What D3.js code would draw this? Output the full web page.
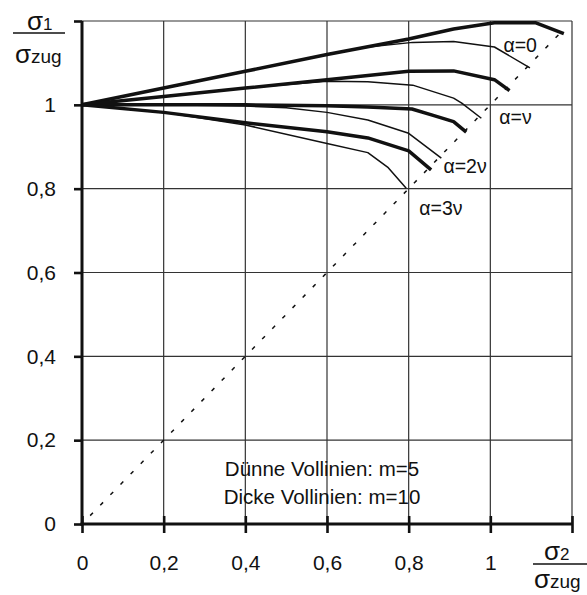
<!DOCTYPE html>
<html>
<head>
<meta charset="utf-8">
<script src="https://cdn.jsdelivr.net/npm/d3@7"></script>
<style>
  html, body { margin: 0; padding: 0; background: #fff; }
  svg { display: block; font-family: "Liberation Sans", Arial, Helvetica, sans-serif; }
</style>
</head>
<body>
<svg id="chart" width="587" height="595"></svg>
<script>
// ---------- DATA ----------
const tickValues = [0, 0.2, 0.4, 0.6, 0.8, 1, 1.2];
const labelledTicks = [0, 0.2, 0.4, 0.6, 0.8, 1];
const alphaLabels = ['α=0', 'α=ν', 'α=2ν', 'α=3ν'];
const legendLines = ['Dünne Vollinien: m=5', 'Dicke Vollinien: m=10'];

// thick lines: m=10
const thickA0 = [[0, 1], [0.2, 1.04], [0.4, 1.08], [0.6, 1.12], [0.8, 1.157], [0.91, 1.181], [1.01, 1.196], [1.11, 1.196], [1.18, 1.17]];
const thickA1 = [[0, 1], [0.2, 1.02], [0.4, 1.04], [0.6, 1.06], [0.8, 1.08], [0.91, 1.081], [1.01, 1.06], [1.047, 1.034]];
const thickA2 = [[0, 1], [0.2, 1.0], [0.4, 1.0], [0.6, 0.998], [0.7, 0.995], [0.808, 0.99], [0.86, 0.975], [0.91, 0.96], [0.941, 0.935]];
const thickA3 = [[0, 1], [0.2, 0.982], [0.4, 0.957], [0.6, 0.936], [0.7, 0.921], [0.8, 0.89], [0.855, 0.845]];

// thin lines: m=5
const thinA0 = [[0, 1], [0.2, 1.04], [0.4, 1.08], [0.6, 1.12], [0.7, 1.138], [0.81, 1.149], [0.91, 1.151], [1.01, 1.138], [1.097, 1.088]];
const thinA1 = [[0, 1], [0.2, 1.02], [0.4, 1.04], [0.6, 1.056], [0.7, 1.055], [0.81, 1.047], [0.91, 1.016], [0.93, 1.004], [0.978, 0.968]];
const thinA2 = [[0, 1], [0.2, 1.0], [0.4, 0.997], [0.5, 0.993], [0.6, 0.982], [0.7, 0.964], [0.8, 0.932], [0.88, 0.873]];
const thinA3 = [[0, 1], [0.2, 0.982], [0.4, 0.952], [0.6, 0.908], [0.7, 0.886], [0.75, 0.85], [0.794, 0.801]];

const diagonal = [[0.02, 0.02], [1.18, 1.18]];

// ---------- CHART ----------
const svg = d3.select('#chart');
const ink = '#111';

const x = d3.scaleLinear().domain([0, 1.2]).range([82, 572]);
const y = d3.scaleLinear().domain([0, 1.2]).range([524, 21]);

const fmt = (d) => (d === 0 || d === 1 ? String(d) : d3.format('.1f')(d).replace('.', ','));

// grid
const grid = svg.append('g').attr('stroke', '#333').attr('stroke-width', 1.2);
grid.selectAll('line.v')
  .data(tickValues.slice(1))
  .join('line')
  .attr('x1', (d) => x(d)).attr('x2', (d) => x(d))
  .attr('y1', y(0)).attr('y2', y(1.2));
grid.selectAll('line.h')
  .data(tickValues.slice(1))
  .join('line')
  .attr('x1', x(0)).attr('x2', x(1.2))
  .attr('y1', (d) => y(d)).attr('y2', (d) => y(d));

// axes
const yAxis = svg.append('g')
  .attr('transform', `translate(${x(0)},0)`)
  .call(d3.axisLeft(y).tickValues(tickValues).tickSize(8).tickPadding(18)
    .tickFormat((d) => (labelledTicks.includes(d) ? fmt(d) : '')));

const xAxis = svg.append('g')
  .attr('transform', `translate(0,${y(0)})`)
  .call(d3.axisBottom(x).tickValues(tickValues).tickSize(9).tickPadding(22)
    .tickFormat((d) => (labelledTicks.includes(d) ? fmt(d) : '')));

[yAxis, xAxis].forEach((ax) => {
  ax.select('.domain').remove();
  ax.selectAll('text').attr('fill', ink).style('font-size', '21px');
  ax.selectAll('.tick line').attr('stroke', ink).attr('stroke-width', 2.6);
});
xAxis.selectAll('.tick line').attr('y1', -8);

// main axis lines
svg.append('line')
  .attr('x1', x(0)).attr('x2', x(0)).attr('y1', y(1.2)).attr('y2', y(0) + 1.5)
  .attr('stroke', ink).attr('stroke-width', 3);
svg.append('line')
  .attr('x1', x(0) - 1.5).attr('x2', x(1.2)).attr('y1', y(0)).attr('y2', y(0))
  .attr('stroke', ink).attr('stroke-width', 3);

// dotted diagonal
const line = d3.line().x((d) => x(d[0])).y((d) => y(d[1]));
svg.append('path')
  .datum(diagonal)
  .attr('d', line)
  .attr('fill', 'none')
  .attr('stroke', ink)
  .attr('stroke-width', 1.5)
  .attr('stroke-dasharray', '4,10.5');

// curves
const thin = [thinA0, thinA1, thinA2, thinA3];
const thick = [thickA0, thickA1, thickA2, thickA3];

svg.append('g').selectAll('path')
  .data(thin)
  .join('path')
  .attr('d', line)
  .attr('fill', 'none')
  .attr('stroke', ink)
  .attr('stroke-width', 1.5)
  .attr('stroke-linejoin', 'round');

svg.append('g').selectAll('path')
  .data(thick)
  .join('path')
  .attr('d', line)
  .attr('fill', 'none')
  .attr('stroke', ink)
  .attr('stroke-width', 3.5)
  .attr('stroke-linejoin', 'round');

// alpha labels (placement in data units)
const labelAt = [[1.032, 1.126], [1.022, 0.955], [0.885, 0.838], [0.826, 0.737]];
svg.append('g').selectAll('text')
  .data(alphaLabels)
  .join('text')
  .attr('x', (d, i) => x(labelAt[i][0]))
  .attr('y', (d, i) => y(labelAt[i][1]))
  .attr('fill', ink)
  .style('font-size', '19.5px')
  .text((d) => d);

// legend text
svg.append('g').selectAll('text')
  .data(legendLines)
  .join('text')
  .attr('x', 322)
  .attr('y', (d, i) => 476 + i * 28)
  .attr('text-anchor', 'middle')
  .attr('fill', ink)
  .style('font-size', '20.5px')
  .text((d) => d);

// axis titles as fractions
function fraction(num, sub1, den, sub2, nx, ny, dx, dy, lx1, lx2, ly) {
  const t1 = svg.append('text').attr('x', nx).attr('y', ny).attr('fill', ink);
  t1.append('tspan').style('font-size', '26px').text(num);
  t1.append('tspan').style('font-size', '17px').text(sub1);
  svg.append('line')
    .attr('x1', lx1).attr('x2', lx2).attr('y1', ly).attr('y2', ly)
    .attr('stroke', ink).attr('stroke-width', 1.6);
  const t2 = svg.append('text').attr('x', dx).attr('y', dy).attr('fill', ink);
  t2.append('tspan').style('font-size', '26px').text(den);
  t2.append('tspan').style('font-size', '19px').text(sub2);
}
fraction('σ', '1', 'σ', 'zug', 27, 30, 15, 63, 13, 65, 33);
fraction('σ', '2', 'σ', 'zug', 544, 560, 534, 588, 533, 587, 564);
</script>
</body>
</html>
